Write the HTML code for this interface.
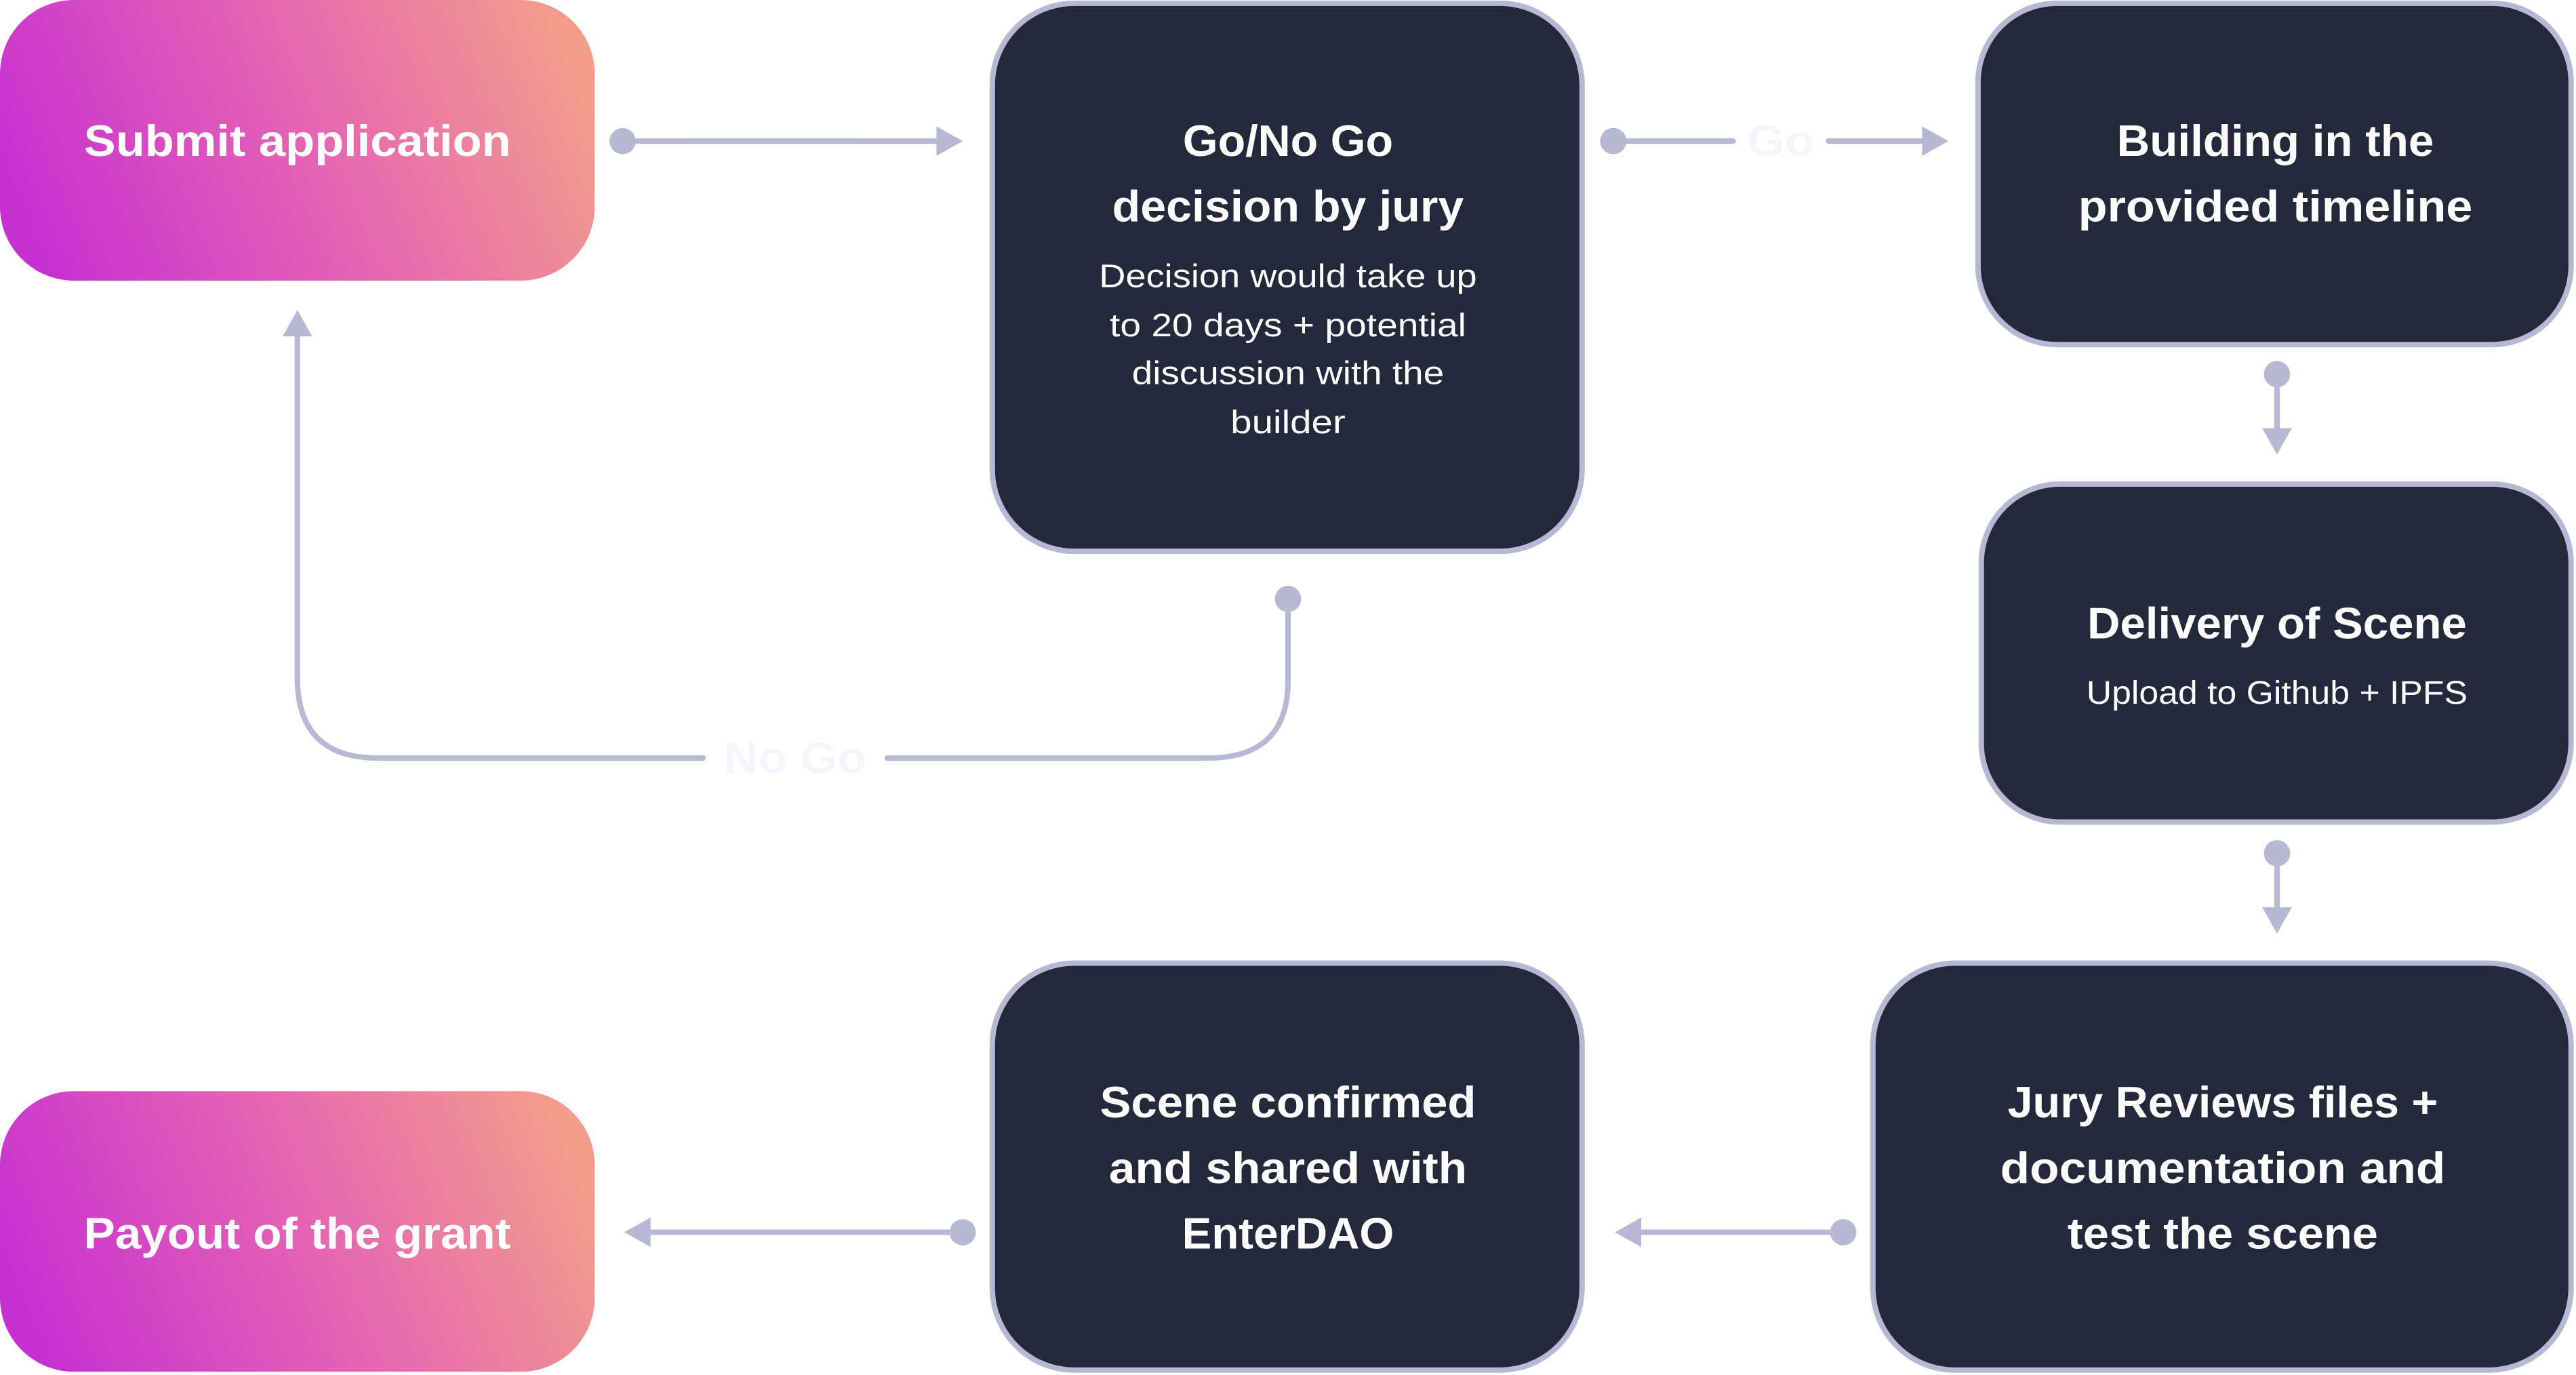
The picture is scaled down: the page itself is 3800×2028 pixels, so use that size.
<!DOCTYPE html>
<html><head><meta charset="utf-8"><style>
html,body{margin:0;padding:0;background:#fff;}
svg{display:block;}
text{font-family:"Liberation Sans",sans-serif;fill:#fff;text-anchor:middle;}
.t{font-weight:bold;font-size:27px;}
.s{font-size:20px;}
</style></head><body>
<svg width="3800" height="2028" viewBox="0 0 1568 838" preserveAspectRatio="none" xmlns="http://www.w3.org/2000/svg">
<defs>
<linearGradient id="g" x1="0" y1="0.6" x2="1" y2="0.4">
<stop offset="0" stop-color="#c630d2"/><stop offset="0.5" stop-color="#e462b4"/><stop offset="1" stop-color="#f29d8c"/>
</linearGradient>
</defs>
<g fill="#25273a" stroke="#b8b8d4" stroke-width="3.3">
<rect x="604" y="2" width="359" height="334" rx="50"/>
<rect x="1204" y="2" width="361" height="208" rx="48"/>
<rect x="1206" y="295" width="359" height="206" rx="48"/>
<rect x="1140" y="587" width="425" height="248" rx="50"/>
<rect x="604" y="587" width="359" height="248" rx="50"/>
</g>
<rect x="0" y="0" width="362" height="171" rx="45" fill="url(#g)"/>
<rect x="0" y="665" width="362" height="171" rx="45" fill="url(#g)"/>

<g stroke="#b8b8d4" stroke-width="3.3" fill="none" stroke-linecap="round">
<line x1="379" y1="86" x2="575" y2="86"/>
<line x1="982" y1="86" x2="1055" y2="86"/>
<line x1="1113" y1="86" x2="1175" y2="86"/>
<line x1="1386" y1="228" x2="1386" y2="265"/>
<line x1="1386" y1="520" x2="1386" y2="557"/>
<line x1="1122" y1="751" x2="993" y2="751"/>
<line x1="586" y1="751" x2="390" y2="751"/>
<path d="M784 365 V415 Q784 462 735 462 H540"/>
<path d="M428 462 H230 Q181 462 181 413 V200"/>
</g>
<g fill="#b8b8d4">
<circle cx="379" cy="86" r="8"/><polygon points="570,77 586,86 570,95"/>
<circle cx="982" cy="86" r="8"/><polygon points="1170,77 1186,86 1170,95"/>
<circle cx="1386" cy="228" r="8"/><polygon points="1377,261 1386,277 1395,261"/>
<circle cx="1386" cy="520" r="8"/><polygon points="1377,553 1386,569 1395,553"/>
<circle cx="1122" cy="751" r="8"/><polygon points="999,742 983,751 999,760"/>
<circle cx="586" cy="751" r="8"/><polygon points="396,742 380,751 396,760"/>
<circle cx="784" cy="365" r="8"/><polygon points="172,205 181,189 190,205"/>
</g>
<g>
<text x="1084" y="95" class="t" style="fill:#f5f6fd" textLength="41" lengthAdjust="spacingAndGlyphs">Go</text>
<text x="484" y="471" class="t" style="fill:#f5f6fd" textLength="87" lengthAdjust="spacingAndGlyphs">No Go</text>

<text x="181" y="95" class="t" textLength="260" lengthAdjust="spacingAndGlyphs">Submit application</text>
<text x="181" y="761" class="t" textLength="260" lengthAdjust="spacingAndGlyphs">Payout of the grant</text>
<text x="784" y="95" class="t" textLength="128" lengthAdjust="spacingAndGlyphs">Go/No Go</text>
<text x="784" y="135" class="t" textLength="214" lengthAdjust="spacingAndGlyphs">decision by jury</text>
<text x="784" y="175" class="s" textLength="230" lengthAdjust="spacingAndGlyphs">Decision would take up</text>
<text x="784" y="205" class="s" textLength="217" lengthAdjust="spacingAndGlyphs">to 20 days + potential</text>
<text x="784" y="234" class="s" textLength="190" lengthAdjust="spacingAndGlyphs">discussion with the</text>
<text x="784" y="264" class="s" textLength="70" lengthAdjust="spacingAndGlyphs">builder</text>
<text x="1385" y="95" class="t" textLength="193" lengthAdjust="spacingAndGlyphs">Building in the</text>
<text x="1385" y="135" class="t" textLength="240" lengthAdjust="spacingAndGlyphs">provided timeline</text>
<text x="1386" y="389" class="t" textLength="231" lengthAdjust="spacingAndGlyphs">Delivery of Scene</text>
<text x="1386" y="429" class="s" textLength="232" lengthAdjust="spacingAndGlyphs">Upload to Github + IPFS</text>
<text x="1353" y="681" class="t" textLength="262" lengthAdjust="spacingAndGlyphs">Jury Reviews files +</text>
<text x="1353" y="721" class="t" textLength="271" lengthAdjust="spacingAndGlyphs">documentation and</text>
<text x="1353" y="761" class="t" textLength="189" lengthAdjust="spacingAndGlyphs">test the scene</text>
<text x="784" y="681" class="t" textLength="229" lengthAdjust="spacingAndGlyphs">Scene confirmed</text>
<text x="784" y="721" class="t" textLength="218" lengthAdjust="spacingAndGlyphs">and shared with</text>
<text x="784" y="761" class="t" textLength="129" lengthAdjust="spacingAndGlyphs">EnterDAO</text>
</g>
</svg>
</body></html>
